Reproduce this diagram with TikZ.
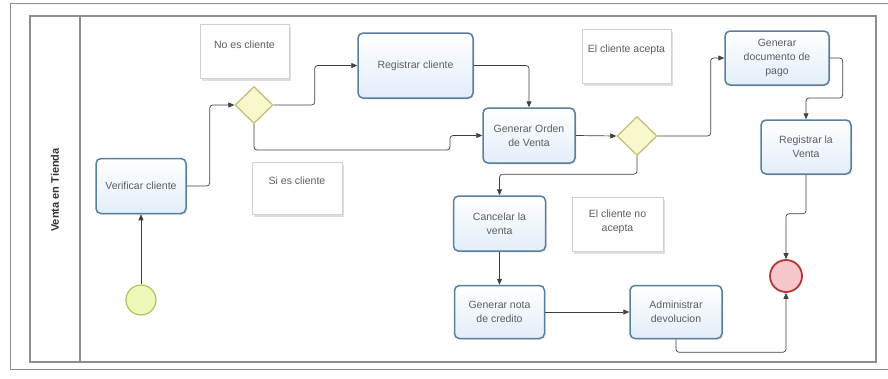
\documentclass[tikz,border=0pt]{standalone}
\usepackage{fontspec}
\setmainfont{Liberation Sans}
\usetikzlibrary{arrows.meta,shapes.geometric,shadows}
\definecolor{taskline}{HTML}{5A7E9E}
\definecolor{taskfill}{HTML}{E2EEFA}
\definecolor{gwline}{HTML}{C2C27A}
\definecolor{gwfill}{HTML}{F8F8CC}
\definecolor{stline}{HTML}{A9C65A}
\definecolor{stfill}{HTML}{EEF8B8}
\definecolor{endline}{HTML}{B83535}
\definecolor{endfill}{HTML}{F6C8CC}
\definecolor{frame}{HTML}{8E8E8E}
\definecolor{txt}{HTML}{5E5E5E}
\tikzset{
  lbl/.style={font=\fontsize{10.5}{14}\selectfont, text=txt},
  task/.style={draw=taskline, line width=1.5pt, rounded corners=5pt,
    top color=white, bottom color=taskfill, minimum width=#1, minimum height=55pt,
    align=center, lbl, inner sep=1pt,
    drop shadow={shadow xshift=1.5pt, shadow yshift=-1.5pt, opacity=0.15}},
  task/.default=92pt,
  gateway/.style={diamond, draw=gwline, line width=1.3pt, fill=gwfill,
    minimum width=38pt, minimum height=37pt, inner sep=0pt},
  startev/.style={circle, draw=stline, line width=1.2pt, fill=stfill,
    minimum size=30pt, inner sep=0pt},
  endev/.style={circle, draw=endline, line width=1.8pt, fill=endfill,
    minimum size=32pt, inner sep=0pt},
  annot/.style={draw=black!18, fill=white, line width=0.6pt,
    minimum width=#1, minimum height=54pt,
    drop shadow={shadow xshift=2pt, shadow yshift=-2.5pt, opacity=0.25}},
  annot/.default=90pt,
  atext/.style={lbl, align=center},
  flow/.style={draw=black!75, line width=0.7pt, rounded corners=3pt,
    -{Triangle[length=6pt,width=5pt]}},
}
\begin{document}
\begin{tikzpicture}[x=1pt,y=-1pt]
\useasboundingbox (0,0) rectangle (888,378);
% screen frame and pool
\draw[black!45, line width=0.8pt] (890,3) -- (10,3) -- (10,369) -- (890,369);
\draw[frame, line width=1.4pt] (30,16) rectangle (876,362);
\draw[frame, line width=1.4pt] (80,16) -- (80,362);
\node[rotate=90, font=\bfseries\fontsize{11}{13}\selectfont, text=black!80] (lane) at (55,190) {Venta en Tienda};

% annotations
\node[annot=89pt] (ano) at (244.5,51) {};
\node[atext] (anot) at (244.5,45) {No es cliente};
\node[annot=90pt, minimum height=52pt] (asi) at (297,188) {};
\node[atext] (asit) at (297,181) {Si es cliente};
\node[annot=89pt] (aac) at (626.5,56) {};
\node[atext] (aact) at (626.5,50) {El cliente acepta};
\node[annot=91pt] (ana) at (617.5,224) {};
\node[atext] (anat) at (617.5,222) {El cliente no\\acepta};

% events, gateways and tasks
\node[startev] (start) at (141,300) {};
\node[task=90pt] (ver) at (141,186) {Verificar cliente};
\node[gateway] (g1) at (254,105) {};
\node[task=115pt, minimum height=65pt] (reg) at (415.5,65.5) {Registrar cliente};
\node[task=92pt] (gov) at (529,135.5) {Generar Orden\\de Venta};
\node[gateway, minimum width=40pt, minimum height=39pt] (g2) at (637,136) {};
\node[task=104pt, minimum height=54pt] (doc) at (777,58) {Generar\\documento de\\pago};
\node[task=90pt, minimum height=54pt] (rv) at (806,147) {Registrar la\\Venta};
\node[task=92pt] (can) at (499.5,223.5) {Cancelar la\\venta};
\node[task=90pt, minimum height=53pt] (nota) at (499.5,312) {Generar nota\\de credito};
\node[task=92pt, minimum height=53pt] (adm) at (676,312) {Administrar\\devolucion};
\node[endev] (end) at (786,276) {};

% sequence flows
\draw[flow] (start.north) -- (ver.south);
\draw[flow] (ver.east) -- ++(23,0) |- (g1.west);
\draw[flow] (g1.east) -- ++(41,0) |- (reg.west);
\coordinate (b1) at (450,150);
\draw[flow] (g1.south) |- (b1) |- (gov.west);
\draw[flow] (reg.east) -| (gov.north);
\draw[flow] (gov.east) -- (g2.west);
\draw[flow] (g2.east) -- ++(53,0) |- (doc.west);
\draw[flow] (g2.south) -- ++(0,18) -| (can.north);
\draw[flow] (doc.east) -- ++(13,0) -- ++(0,40) -| (rv.north);
\draw[flow] (rv.south) -- ++(0,39) -| (end.north);
\draw[flow] (can.south) -- (nota.north);
\draw[flow] (nota.east) -- (adm.west);
\draw[flow] (adm.south) -- ++(0,13) -| (end.south);
\end{tikzpicture}
\end{document}
